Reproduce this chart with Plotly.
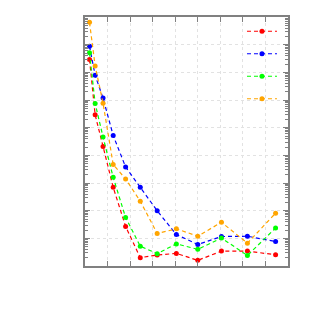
import plotly.graph_objects as go

x_vals = [4, 9, 16, 25, 36, 49, 64, 81, 100, 121, 144, 169]

red_vals = [2.9e-2, 2.9e-4, 2.1e-5, 7.0e-7, 2.7e-8, 2.0e-9, 2.5e-9, 2.85e-9, 1.6e-9, 3.45e-9, 3.45e-9, 2.55e-9]
blue_vals = [8.8e-2, 7.8e-3, 1.17e-3, 5.2e-5, 3.8e-6, 7.0e-7, 9.9e-8, 1.37e-8, 6.0e-9, 1.16e-8, 1.19e-8, 7.7e-9]
green_vals = [5.1e-2, 7.5e-4, 4.6e-5, 1.6e-6, 5.7e-8, 5.2e-9, 2.8e-9, 6.3e-9, 4.0e-9, 1.03e-8, 2.4e-9, 2.36e-8]
orange_vals = [6.4e-1, 1.7e-2, 7.7e-4, 4.65e-6, 1.4e-6, 2.2e-7, 1.5e-8, 2.2e-8, 1.2e-8, 3.8e-8, 6.7e-9, 8.1e-8]

series = [
    ("", red_vals, "#ff0000"),
    ("", blue_vals, "#0000ff"),
    ("", green_vals, "#00ff00"),
    ("", orange_vals, "#ffa500"),
]

fig = go.Figure()
for name, vals, color in series:
    fig.add_trace(go.Scatter(
        x=x_vals, y=vals, name=name, mode="lines+markers",
        line=dict(color=color, width=1.2, dash="4px,3px"),
        marker=dict(color=color, size=5, symbol="circle"),
    ))

frame = "#808080"
fig.update_layout(
    width=314, height=314,
    margin=dict(l=77, r=34, t=7, b=56),
    paper_bgcolor="white", plot_bgcolor="white",
    showlegend=True,
    legend=dict(x=0.995, y=1.008, xanchor="right", yanchor="top",
                bgcolor="rgba(0,0,0,0)", font=dict(size=15, color="black"),
                itemwidth=30, tracegroupgap=0),
    shapes=[dict(type="rect", xref="paper", yref="paper",
                 x0=0.62, x1=0.956, y0=0.617, y1=0.995,
                 fillcolor="white", line=dict(width=0), layer="between")],
)
fig.update_xaxes(
    range=[0, 180], dtick=20, showticklabels=False,
    ticks="inside", ticklen=5, tickcolor=frame, tickwidth=1,
    showline=True, linecolor=frame, linewidth=2, mirror="ticks",
    showgrid=True, gridcolor="#e2e2e2", griddash="dot", gridwidth=1,
    zeroline=False,
)
fig.update_yaxes(
    type="log", range=[-9, 0], dtick=1, showticklabels=False,
    ticks="inside", ticklen=5, tickcolor=frame, tickwidth=1,
    showline=True, linecolor=frame, linewidth=2, mirror="ticks",
    showgrid=True, gridcolor="#e2e2e2", griddash="dot", gridwidth=1,
    minor=dict(ticks="inside", ticklen=3, tickcolor=frame, showgrid=False),
    zeroline=False,
)
fig.write_html("out.html")
